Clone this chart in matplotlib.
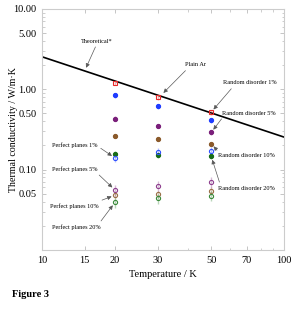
import numpy as np
import matplotlib.pyplot as plt
from matplotlib.ticker import FixedLocator, FixedFormatter, LogLocator, NullFormatter

plt.rcParams['font.family'] = ['Liberation Serif', 'DejaVu Serif']

# temperatures (K)
temps = [20, 30, 50]

# thermal conductivity (W/m.K)
plain_ar = [1.20, 0.80, 0.52]
rand_1 = [0.85, 0.62, 0.41]
rand_5 = [0.43, 0.35, 0.29]
rand_10 = [0.26, 0.24, 0.21]
rand_20 = [0.156, 0.150, 0.146]
planes_1 = [0.140, 0.168, 0.169]
planes_5 = [0.056, 0.062, 0.070]
planes_10 = [0.048, 0.050, 0.055]
planes_20 = [0.039, 0.044, 0.047]

# theoretical curve ~ 1/T
theory_T = [10, 100]
theory_k = [2.54, 0.254]

x_ticks = [10, 15, 20, 30, 50, 70, 100]
y_ticks = [0.05, 0.10, 0.50, 1.00, 5.00, 10.00]

fig = plt.figure(figsize=(3.0, 3.09), dpi=100)
ax = fig.add_axes([0.14, 0.191, 0.807, 0.780])

ax.plot(theory_T, theory_k, color='black', lw=1.2, zorder=2)

series = [
    (plain_ar, 's', '#e82a2a', 'none', 0.07),
    (rand_1, 'o', '#1f3cff', '#1f3cff', 0.07),
    (rand_5, 'o', '#7a1f7a', '#7a1f7a', 0.07),
    (rand_10, 'o', '#8b5a2b', '#8b5a2b', 0.06),
    (rand_20, 'o', '#176b17', '#176b17', 0.08),
    (planes_1, 'o', '#3050ff', 'none', 0.12),
    (planes_5, 'o', '#8e3f8e', 'none', 0.16),
    (planes_10, 'o', '#9a7048', 'none', 0.10),
    (planes_20, 'o', '#3a8a3a', 'none', 0.14),
]
for vals, mk, col, fc, rel in series:
    vals = np.array(vals)
    ax.errorbar(temps, vals, yerr=vals * rel, fmt='none', ecolor=col,
                alpha=0.35, elinewidth=1.0, zorder=3)
    ax.plot(temps, vals, mk, ms=3.0, mfc=fc, mec=col,
            mew=0.8, zorder=4, linestyle='none')

ax.set_xscale('log')
ax.set_yscale('log')
ax.set_xlim(10, 100)
ax.set_ylim(0.01, 10)

ax.xaxis.set_major_locator(FixedLocator(x_ticks))
ax.xaxis.set_major_formatter(FixedFormatter([str(t) for t in x_ticks]))
ax.xaxis.set_minor_locator(LogLocator(base=10, subs=np.arange(1, 10) * 1.0))
ax.xaxis.set_minor_formatter(NullFormatter())
ax.yaxis.set_major_locator(FixedLocator(y_ticks))
ax.yaxis.set_major_formatter(FixedFormatter(['%.2f' % t for t in y_ticks]))
ax.yaxis.set_minor_locator(LogLocator(base=10, subs=np.arange(1, 10) * 1.0))
ax.yaxis.set_minor_formatter(NullFormatter())

for s in ax.spines.values():
    s.set_color('#cccccc')
    s.set_linewidth(0.8)
ax.tick_params(which='both', direction='in', top=True, right=True,
               color='#bbbbbb', labelsize=7.5, pad=4)
ax.tick_params(which='major', length=3, width=0.6)
ax.tick_params(which='minor', length=1.8, width=0.5)

ax.set_xlabel('Temperature / K', fontsize=7.5)
ax.set_ylabel('Thermal conductivity / W/m\u00b7K', fontsize=7.2)
ax.xaxis.set_label_coords(0.5, -0.085)
ax.yaxis.set_label_coords(-0.1, 0.5)

arr = dict(arrowstyle='-|>', color='0.35', lw=0.5, mutation_scale=6,
           shrinkA=0.5, shrinkB=2.5)
fs = 4.5

def note(txt, tip, pos, ha='left', rel=(0.5, 0.5)):
    a = dict(arr, relpos=rel)
    ax.annotate(txt, xy=tip, xycoords='data', xytext=pos,
                textcoords='axes fraction', ha=ha, va='center',
                fontsize=fs, arrowprops=a, zorder=5)

note('Theoretical*', (15, 25.4 / 15), (0.227, 0.867), ha='center', rel=(0.5, 0))
note('Plain Ar', (31, 0.84), (0.632, 0.768), ha='center', rel=(0.2, 0))
note('Random disorder 1%', (temps[2], plain_ar[2]), (0.86, 0.693), ha='center', rel=(0.2, 0))
note('Random disorder 5%', (temps[2], rand_5[2]), (0.744, 0.568), rel=(0.05, 0.2))
note('Random disorder 10%', (temps[2], rand_10[2]), (0.727, 0.39), rel=(0.05, 0.8))
note('Random disorder 20%', (temps[2], rand_20[2]), (0.727, 0.257), rel=(0.05, 0.8))
note('Perfect planes 1%', (temps[0], planes_1[0]), (0.041, 0.436), rel=(1, 0.3))
note('Perfect planes 5%', (temps[0], planes_5[0]), (0.041, 0.336), rel=(0.95, 0.1))
note('Perfect planes 10%', (temps[0], planes_10[0]), (0.033, 0.183), rel=(0.85, 0.8))
note('Perfect planes 20%', (temps[0], planes_20[0]), (0.041, 0.095), rel=(0.95, 0.9))

fig.text(0.04, 0.04, 'Figure 3', fontsize=7.5, fontweight='bold')

fig.savefig('out.png', dpi=100)
